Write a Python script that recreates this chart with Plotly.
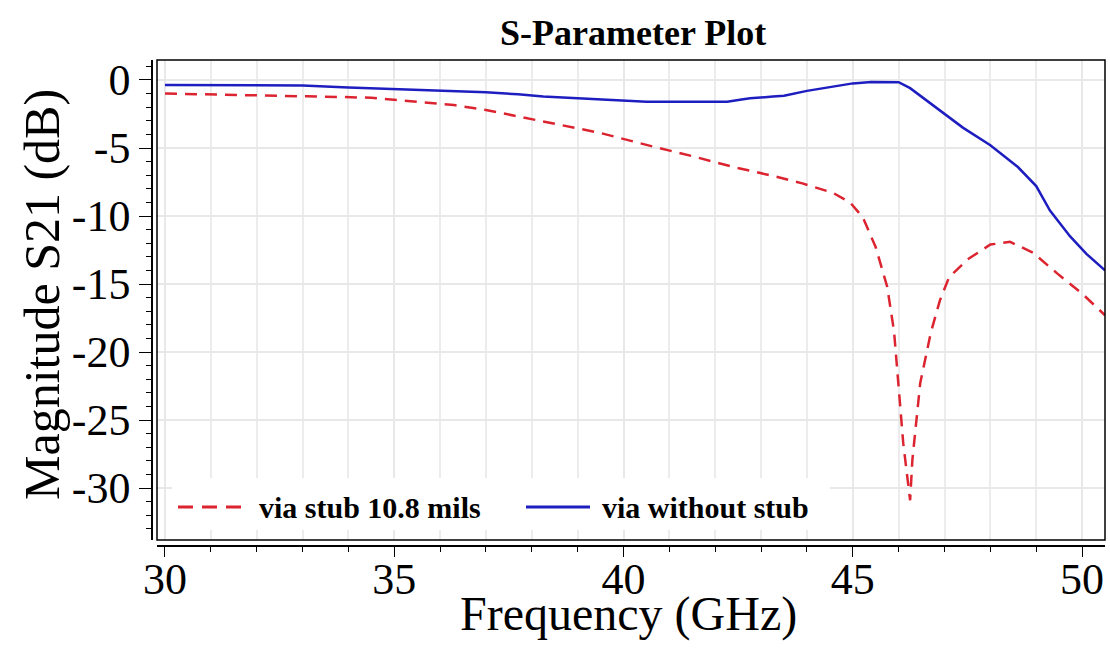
import plotly.graph_objects as go

# ---- data ----
freq_blue = [30, 31, 32, 33.0, 34.0, 35.0, 36.0, 37.0, 37.7, 38.25, 39.0, 39.7, 40.5, 41.5,
             42.26, 42.54, 42.76, 43.26, 43.5, 44.0, 44.6, 45.0, 45.4, 45.7, 46.0, 46.25,
             46.8, 47.4, 48.0, 48.6, 49.0, 49.3, 49.74, 50.1, 50.5]
s21_without_stub = [-0.37, -0.37, -0.37, -0.4, -0.55, -0.65, -0.78, -0.9, -1.05, -1.22, -1.35,
                    -1.47, -1.6, -1.6, -1.6, -1.45, -1.35, -1.22, -1.15, -0.8, -0.45, -0.25,
                    -0.15, -0.13, -0.16, -0.6, -2.0, -3.5, -4.8, -6.4, -7.8, -9.6, -11.5,
                    -12.8, -14.0]

freq_red = [30, 31, 32, 33.1, 34.5, 35.6, 36.3, 37.0, 37.9, 38.6, 39.5, 40.65, 41.5, 42.4,
            43.26, 43.9, 44.57, 44.94, 45.22, 45.5, 45.75, 45.9, 46.0, 46.1, 46.25, 46.3,
            46.47, 46.7, 46.9, 47.1, 47.5, 48.0, 48.43, 48.93, 49.45, 50.0, 50.5]
s21_stub = [-1.0, -1.05, -1.1, -1.2, -1.3, -1.6, -1.84, -2.2, -2.8, -3.3, -3.9, -4.9, -5.6,
            -6.4, -7.05, -7.6, -8.3, -9.0, -10.1, -12.3, -15.2, -18.5, -22.3, -26.7, -30.9,
            -27.9, -22.3, -18.6, -16.2, -14.5, -13.2, -12.1, -11.9, -12.7, -14.2, -15.7, -17.3]

x_tickvals = [30, 35, 40, 45, 50]
x_ticktext = ["30", "35", "40", "45", "50"]
y_tickvals = [0, -5, -10, -15, -20, -25, -30]
y_ticktext = ["0", "-5", "-10", "-15", "-20", "-25", "-30"]

series_names = ["via stub 10.8 mils", "via without stub"]
series_colors = ["#dc2430", "#1e1ec0"]
series_dash = ["12px,8px", "solid"]

SERIF = "Liberation Serif, Times New Roman, serif"

fig = go.Figure()
fig.add_trace(go.Scatter(x=freq_red, y=s21_stub, mode="lines", name=series_names[0],
                         showlegend=False, hoverinfo="skip",
                         line=dict(color=series_colors[0], width=2.5, dash=series_dash[0])))
fig.add_trace(go.Scatter(x=freq_blue, y=s21_without_stub, mode="lines", name=series_names[1],
                         showlegend=False, hoverinfo="skip",
                         line=dict(color=series_colors[1], width=2.5, dash=series_dash[1])))

W, H = 1110, 666
ml, mr, mt, mb = 140, 5, 55, 100
pw, ph = W - ml - mr, H - mt - mb


def px_x(p):
    return (p - ml) / pw


def px_y(p):
    return (H - mb - p) / ph


xd0 = px_x(157)
yd0, yd1 = px_y(540), px_y(60)

# custom legend (long line samples like the reference)
leg_y = px_y(507)
shapes = [
    dict(type="rect", xref="paper", yref="paper", x0=px_x(172), x1=px_x(830),
         y0=px_y(530), y1=px_y(478), line=dict(width=0), fillcolor="white", layer="above"),
    dict(type="line", xref="paper", yref="paper", x0=px_x(178), x1=px_x(246),
         y0=leg_y, y1=leg_y, layer="above",
         line=dict(color=series_colors[0], width=3, dash="15px,9px")),
    dict(type="line", xref="paper", yref="paper", x0=px_x(526), x1=px_x(590),
         y0=leg_y, y1=leg_y, layer="above",
         line=dict(color=series_colors[1], width=3)),
    dict(type="rect", xref="paper", yref="paper", x0=xd0, x1=1.0, y0=yd0, y1=yd1,
         line=dict(color="black", width=1.5), fillcolor="rgba(0,0,0,0)", layer="above"),
]

fig.update_layout(
    width=W, height=H,
    margin=dict(l=ml, r=mr, t=mt, b=mb),
    paper_bgcolor="white", plot_bgcolor="white",
    font=dict(family=SERIF, color="black"),
    showlegend=False,
    xaxis=dict(domain=[xd0, 1.0], anchor="free", position=px_y(546),
               range=[29.826, 50.5], showline=True, linecolor="black", linewidth=1.5,
               ticks="outside", ticklen=10, tickwidth=1.2, tickcolor="black",
               tickvals=x_tickvals, ticktext=x_ticktext, ticklabelstandoff=-16,
               tickfont=dict(family=SERIF, size=44, color="black"),
               showgrid=True, gridcolor="#e8e8e8", gridwidth=1.5, zeroline=False,
               minor=dict(dtick=1, tick0=30, ticks="outside", ticklen=5, tickcolor="black",
                          showgrid=True, gridcolor="#ececec", gridwidth=1.5)),
    yaxis=dict(domain=[yd0, yd1], anchor="free", position=px_x(152),
               range=[-33.82, 1.47], showline=True, linecolor="black", linewidth=1.5,
               ticks="outside", ticklen=12, tickwidth=1.2, tickcolor="black",
               tickvals=y_tickvals, ticktext=y_ticktext,
               tickfont=dict(family=SERIF, size=44, color="black"),
               showgrid=True, gridcolor="#e8e8e8", gridwidth=1.5, zeroline=False,
               minor=dict(dtick=1, tick0=0, ticks="outside", ticklen=5, tickcolor="black",
                          showgrid=False)),
    shapes=shapes,
    annotations=[
        dict(text="<b>S-Parameter Plot</b>", xref="paper", yref="paper",
             x=px_x(633), y=px_y(33), xanchor="center", yanchor="middle", showarrow=False,
             font=dict(family=SERIF, size=36, color="black")),
        dict(text="Frequency (GHz)", xref="paper", yref="paper",
             x=px_x(628), y=px_y(614), xanchor="center", yanchor="middle", showarrow=False,
             font=dict(family=SERIF, size=48, color="black")),
        dict(text="Magnitude S21 (dB)", xref="paper", yref="paper", textangle=-90,
             x=px_x(42), y=px_y(295), xanchor="center", yanchor="middle", showarrow=False,
             font=dict(family=SERIF, size=50, color="black")),
        dict(text="<b>" + series_names[0] + "</b>", xref="paper", yref="paper",
             x=px_x(257), y=leg_y, xanchor="left", yanchor="middle", showarrow=False,
             font=dict(family=SERIF, size=30, color="black")),
        dict(text="<b>" + series_names[1] + "</b>", xref="paper", yref="paper",
             x=px_x(600), y=leg_y, xanchor="left", yanchor="middle", showarrow=False,
             font=dict(family=SERIF, size=30, color="black")),
    ],
)

fig.write_html("out.html")
